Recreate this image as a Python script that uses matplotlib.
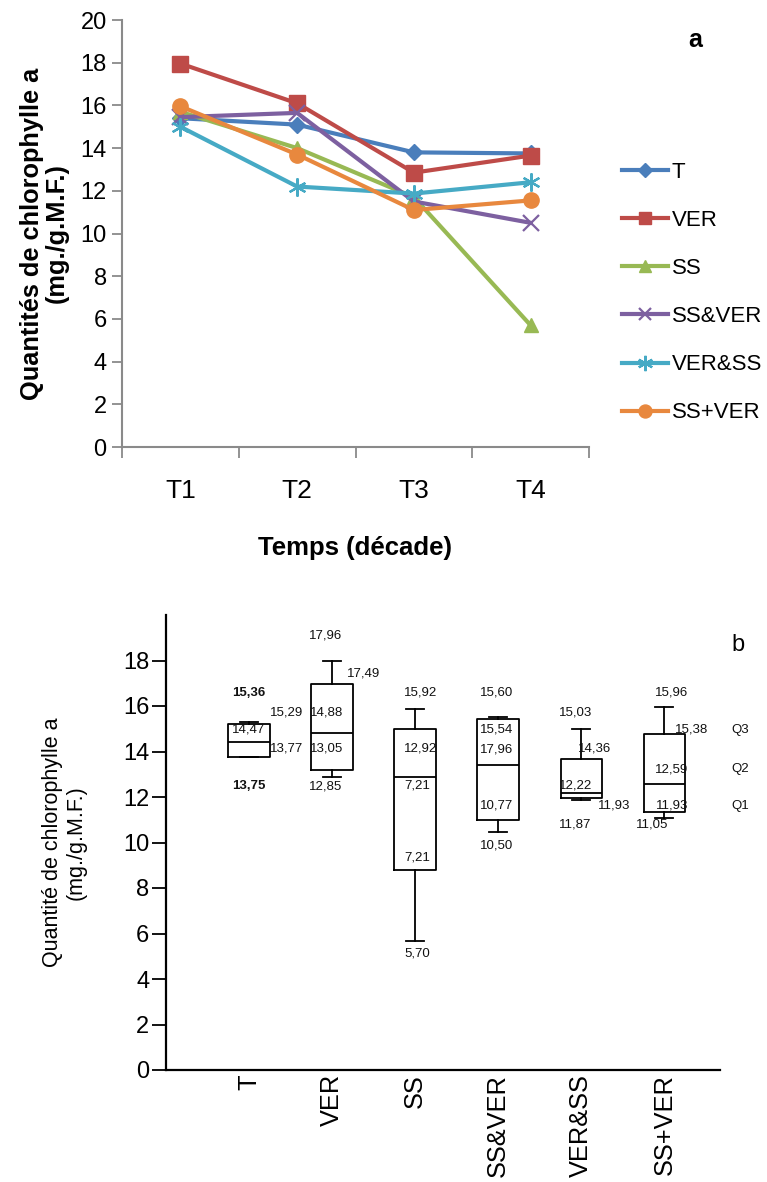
import matplotlib
matplotlib.use("Agg")
import matplotlib.pyplot as plt

# ---------------- data ----------------
periods = ["T1", "T2", "T3", "T4"]
series_names = ["T", "VER", "SS", "SS&VER", "VER&SS", "SS+VER"]
vals_T = [15.4, 15.1, 13.8, 13.75]
vals_VER = [17.96, 16.1, 12.85, 13.65]
vals_SS = [15.7, 14.0, 11.7, 5.70]
vals_SSVER = [15.45, 15.65, 11.5, 10.5]
vals_VERSS = [15.0, 12.2, 11.87, 12.4]
vals_SSpVER = [15.96, 13.7, 11.1, 11.55]

box_groups = ["T", "VER", "SS", "SS&VER", "VER&SS", "SS+VER"]
box_whislo = [13.75, 12.87, 5.65, 10.44, 11.87, 11.06]
box_q1 = [13.77, 13.2, 8.78, 10.98, 11.95, 11.32]
box_med = [14.42, 14.82, 12.87, 13.41, 12.17, 12.56]
box_q3 = [15.19, 16.95, 14.97, 15.44, 13.65, 14.75]
box_whishi = [15.29, 17.97, 15.85, 15.5, 14.97, 15.94]

# annotation labels (text, x-position in group units, y-value)
ann_text = ["15,36", "14,47", "15,29", "13,77", "13,75",
            "17,96", "17,49", "14,88", "13,05", "12,85",
            "15,92", "12,92", "7,21", "7,21", "5,70",
            "15,60", "15,54", "17,96", "10,77", "10,50",
            "15,03", "14,36", "12,22", "11,93", "11,87",
            "15,96", "15,38", "12,59", "11,93", "11,05",
            "Q3", "Q2", "Q1"]
ann_x = [1.0, 1.0, 1.455, 1.455, 1.0,
         1.923, 2.38, 1.935, 1.935, 1.923,
         3.065, 3.065, 3.025, 3.025, 3.025,
         3.985, 3.985, 3.985, 3.985, 3.985,
         4.93, 5.16, 4.93, 5.39, 4.93,
         6.09, 6.33, 6.09, 6.09, 5.85,
         6.91, 6.91, 6.91]
ann_y = [16.59, 14.95, 15.73, 14.12, 12.47,
         19.09, 17.45, 15.73, 14.12, 12.47,
         16.59, 14.12, 12.5, 9.35, 5.12,
         16.59, 14.95, 14.09, 11.62, 9.89,
         15.73, 14.12, 12.5, 11.62, 10.78,
         16.59, 14.95, 13.23, 11.62, 10.78,
         14.95, 13.23, 11.62]
ann_bold = [True, False, False, False, True] + [False] * 28

# ---------------- styles ----------------
colors = ["#4A7EBB", "#BE4B48", "#98B954", "#7D60A0", "#46AAC5", "#E8883E"]
markers = ["D", "s", "^", "x", (6, 2, 0), "o"]
msizes = [8, 11, 10, 11, 13, 11]
ARIAL = ["Liberation Sans", "DejaVu Sans"]
plt.rcParams["font.family"] = ARIAL

W, H = 767, 1182
fig = plt.figure(figsize=(W / 100, H / 100), dpi=100)

# ---------------- panel a ----------------
ax1 = fig.add_axes([122 / W, 1 - 447 / H, (589 - 122) / W, (447 - 20) / H])
series = [vals_T, vals_VER, vals_SS, vals_SSVER, vals_VERSS, vals_SSpVER]
xs = list(range(1, len(periods) + 1))
handles = []
for name, vals, c, m, ms in zip(series_names, series, colors, markers, msizes):
    mew = 1.6 if m in ("x", (6, 2, 0)) else 1
    ln, = ax1.plot(xs, vals, color=c, lw=3, marker=m, ms=ms, mew=mew,
                   mec=c, mfc=c, label=name, zorder=3)
    handles.append(ln)

ax1.set_xlim(0.5, 4.5)
ax1.set_ylim(0, 20)
ax1.set_yticks(range(0, 21, 2))
ax1.set_xticks([0.5, 1.5, 2.5, 3.5, 4.5])
ax1.set_xticklabels([])
ax1.set_xticks(xs, minor=True)
ax1.set_xticklabels(periods, minor=True, fontsize=19)
ax1.tick_params(axis="x", which="minor", length=0, pad=23)
ax1.tick_params(axis="x", which="major", length=8, width=1.3, color="#8a8a8a")
ax1.tick_params(axis="y", length=7, width=1.3, color="#8a8a8a", pad=4,
                labelsize=17)
for s in ("top", "right"):
    ax1.spines[s].set_visible(False)
for s in ("left", "bottom"):
    ax1.spines[s].set_color("#8a8a8a")
    ax1.spines[s].set_linewidth(1.5)
ax1.set_ylabel("Quantités de chlorophylle a\n(mg./g.M.F.)", fontsize=18.3,
               fontweight="bold", linespacing=1.05, labelpad=8)
ax1.set_xlabel("Temps (décade)", fontsize=18.5, fontweight="bold",
               labelpad=24)
fig.text(695 / W, 1 - 40 / H, "a", fontsize=18, fontweight="bold",
         ha="center", va="center")

leg = fig.legend(handles=handles, loc="upper left",
                 bbox_to_anchor=(613 / W, 1 - 153 / H), frameon=False,
                 prop={"size": 16}, handlelength=2.07,
                 handletextpad=0.18, labelspacing=1.22, borderaxespad=0)
for lh in leg.legend_handles:
    lh.set_markersize(lh.get_markersize() * 0.85)

# ---------------- panel b ----------------
ax2 = fig.add_axes([166 / W, 1 - 1070 / H, (720 - 166) / W, (1070 - 615) / H])
stats = []
for g, lo, q1, md, q3, hi in zip(box_groups, box_whislo, box_q1, box_med,
                                 box_q3, box_whishi):
    stats.append(dict(label=g, whislo=lo, q1=q1, med=md, q3=q3, whishi=hi,
                      fliers=[]))
pos = list(range(1, len(box_groups) + 1))
ax2.bxp(stats, positions=pos, widths=0.5, capwidths=0.22, showfliers=False,
        boxprops=dict(color="black", lw=1.3),
        whiskerprops=dict(color="black", lw=1.3),
        capprops=dict(color="black", lw=1.3),
        medianprops=dict(color="black", lw=1.3))
ax2.set_xlim(0, 6.67)
ax2.set_ylim(0, 20)
ax2.set_yticks(range(0, 19, 2))
ax2.set_xticks(pos)
ax2.set_xticklabels(box_groups, rotation=90, fontsize=18.3, va="top")
ax2.tick_params(axis="x", length=0, pad=3)
ax2.tick_params(axis="y", length=10, width=1.3, labelsize=17, pad=2)
for s in ("top", "right"):
    ax2.spines[s].set_visible(False)
for s in ("left", "bottom"):
    ax2.spines[s].set_linewidth(1.6)
ax2.set_ylabel("Quantité de chlorophylle a\n(mg./g.M.F.)", fontsize=15.5,
               linespacing=1.2, labelpad=26)

for t, x, y, b in zip(ann_text, ann_x, ann_y, ann_bold):
    ax2.text(x, y, t, ha="center", va="center", fontsize=9.5,
             fontweight="bold" if b else "normal", color="#111111")
ax2.text(6.89, 18.67, "b", ha="center", va="center", fontsize=17)

fig.savefig("out.png", dpi=100)
